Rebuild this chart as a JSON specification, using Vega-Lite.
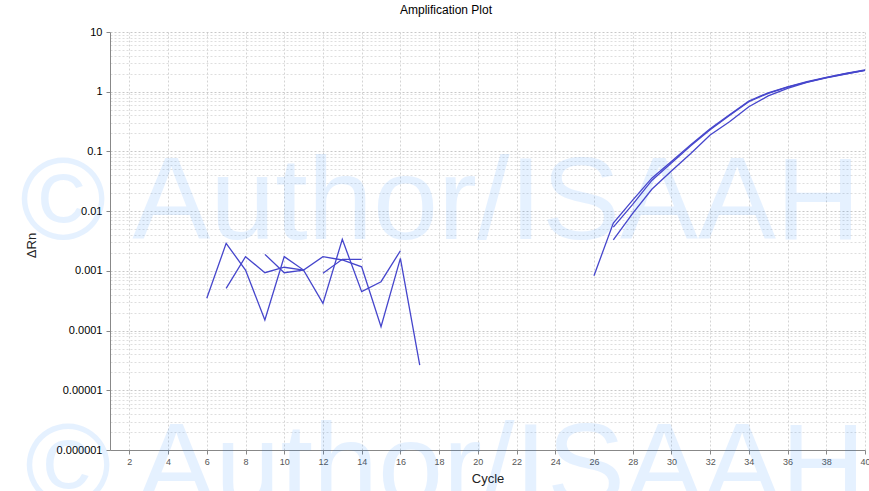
{
  "$schema": "https://vega.github.io/schema/vega-lite/v6.json",
  "width": 755,
  "height": 418,
  "autosize": {"type": "none"},
  "padding": {"left": 110, "top": 32, "right": 4, "bottom": 41},
  "background": "white",
  "title": {"text": "Amplification Plot", "fontSize": 12, "fontWeight": "normal", "font": "Liberation Sans", "color": "black", "anchor": "middle", "frame": "bounds", "offset": 9},
  "config": {
    "view": {"stroke": null},
    "font": "Liberation Sans",
    "axisX": {"labelOverlap": false, "labelFlush": false, "labelBound": false},
    "axisY": {"labelOverlap": false, "labelBound": false}
  },
  "datasets": {
    "curves": [
      {"well": "n1", "cycle": 6, "value": 0.000347},
      {"well": "n1", "cycle": 7, "value": 0.00289},
      {"well": "n1", "cycle": 8, "value": 0.00103},
      {"well": "n1", "cycle": 9, "value": 0.00015},
      {"well": "n1", "cycle": 10, "value": 0.00173},
      {"well": "n1", "cycle": 11, "value": 0.00103},
      {"well": "n1", "cycle": 12, "value": 0.000286},
      {"well": "n1", "cycle": 13, "value": 0.00337},
      {"well": "n1", "cycle": 14, "value": 0.000448},
      {"well": "n1", "cycle": 15, "value": 0.000658},
      {"well": "n1", "cycle": 16, "value": 0.00217},
      {"well": "n2", "cycle": 7, "value": 0.00051},
      {"well": "n2", "cycle": 8, "value": 0.00173},
      {"well": "n2", "cycle": 9, "value": 0.00093},
      {"well": "n2", "cycle": 10, "value": 0.00115},
      {"well": "n2", "cycle": 11, "value": 0.00103},
      {"well": "n2", "cycle": 12, "value": 0.00173},
      {"well": "n2", "cycle": 13, "value": 0.00152},
      {"well": "n2", "cycle": 14, "value": 0.00117},
      {"well": "n2", "cycle": 15, "value": 0.000116},
      {"well": "n2", "cycle": 16, "value": 0.00162},
      {"well": "n2", "cycle": 17, "value": 0.0000265},
      {"well": "n3", "cycle": 9, "value": 0.00189},
      {"well": "n3", "cycle": 10, "value": 0.00093},
      {"well": "n3", "cycle": 11, "value": 0.00103},
      {"well": "n4", "cycle": 12, "value": 0.00091},
      {"well": "n4", "cycle": 13, "value": 0.00156},
      {"well": "n4", "cycle": 14, "value": 0.00156},
      {"well": "a1", "cycle": 26, "value": 0.00083},
      {"well": "a1", "cycle": 27, "value": 0.0063},
      {"well": "a1", "cycle": 28, "value": 0.0153},
      {"well": "a1", "cycle": 29, "value": 0.036},
      {"well": "a1", "cycle": 30, "value": 0.068},
      {"well": "a1", "cycle": 31, "value": 0.13},
      {"well": "a1", "cycle": 32, "value": 0.24},
      {"well": "a1", "cycle": 33, "value": 0.41},
      {"well": "a1", "cycle": 34, "value": 0.70},
      {"well": "a1", "cycle": 35, "value": 0.96},
      {"well": "a1", "cycle": 36, "value": 1.21},
      {"well": "a1", "cycle": 37, "value": 1.47},
      {"well": "a1", "cycle": 38, "value": 1.74},
      {"well": "a1", "cycle": 39, "value": 2.03},
      {"well": "a1", "cycle": 40, "value": 2.31},
      {"well": "a2", "cycle": 27, "value": 0.0054},
      {"well": "a2", "cycle": 28, "value": 0.013},
      {"well": "a2", "cycle": 29, "value": 0.033},
      {"well": "a2", "cycle": 30, "value": 0.064},
      {"well": "a2", "cycle": 31, "value": 0.125},
      {"well": "a2", "cycle": 32, "value": 0.23},
      {"well": "a2", "cycle": 33, "value": 0.40},
      {"well": "a2", "cycle": 34, "value": 0.68},
      {"well": "a2", "cycle": 35, "value": 0.94},
      {"well": "a2", "cycle": 36, "value": 1.19},
      {"well": "a2", "cycle": 37, "value": 1.45},
      {"well": "a2", "cycle": 38, "value": 1.72},
      {"well": "a2", "cycle": 39, "value": 2.0},
      {"well": "a2", "cycle": 40, "value": 2.28},
      {"well": "a3", "cycle": 27, "value": 0.0033},
      {"well": "a3", "cycle": 28, "value": 0.0092},
      {"well": "a3", "cycle": 29, "value": 0.0235},
      {"well": "a3", "cycle": 30, "value": 0.047},
      {"well": "a3", "cycle": 31, "value": 0.092},
      {"well": "a3", "cycle": 32, "value": 0.188},
      {"well": "a3", "cycle": 33, "value": 0.315},
      {"well": "a3", "cycle": 34, "value": 0.56},
      {"well": "a3", "cycle": 35, "value": 0.85},
      {"well": "a3", "cycle": 36, "value": 1.14},
      {"well": "a3", "cycle": 37, "value": 1.43},
      {"well": "a3", "cycle": 38, "value": 1.70},
      {"well": "a3", "cycle": 39, "value": 1.98},
      {"well": "a3", "cycle": 40, "value": 2.27}
    ],
    "mark": [{"label": "© Author/ISAAH"}]
  },
  "layer": [
    {
      "data": {"name": "mark"},
      "mark": {"type": "text", "align": "left", "baseline": "alphabetic", "fontSize": 117, "font": "Liberation Sans", "color": "#0a7cff", "opacity": 0.1},
      "encoding": {
        "text": {"field": "label"},
        "x": {
          "datum": -3.65, "type": "quantitative",
          "scale": {"domain": [1, 40], "nice": false, "zero": false},
          "axis": {
            "title": "Cycle", "titleFont": "Liberation Sans", "titleFontSize": 13, "titleFontWeight": "normal", "titleColor": "#222",
            "titlePadding": 6,
            "values": [2,4,6,8,10,12,14,16,18,20,22,24,26,28,30,32,34,36,38,40],
            "tickCount": 100,
            "format": "d",
            "labelFontSize": 9, "labelColor": "#555", "labelPadding": 3,
            "labelOverlap": false, "labelBound": false, "labelFlush": false,
            "tickSize": 4, "tickColor": "#888", "domainColor": "#888",
            "grid": true, "gridColor": "#d4d4d4", "gridDash": [2, 2]
          }
        },
        "y": {
          "datum": 0.0034, "type": "quantitative",
          "scale": {"type": "log", "domain": [0.000001, 10], "nice": false},
          "axis": {
            "title": "ΔRn", "titleFont": "Liberation Sans", "titleFontSize": 13, "titleFontWeight": "normal", "titleColor": "#222",
            "titleX": -72, "titleY": 213,
            "values": [10,9,8,7,6,5,4,3,2,1,0.9,0.8,0.7,0.6,0.5,0.4,0.3,0.2,0.1,0.09,0.08,0.07,0.06,0.05,0.04,0.03,0.02,0.01,0.009,0.008,0.007,0.006,0.005,0.004,0.003,0.002,0.001,0.0009,0.0008,0.0007,0.0006,0.0005,0.0004,0.0003,0.0002,0.0001,0.00009,0.00008,0.00007,0.00006,0.00005,0.00004,0.00003,0.00002,0.00001,0.000009,0.000008,0.000007,0.000006,0.000005,0.000004,0.000003,0.000002,0.000001],
            "tickCount": 200,
            "labelExpr": "abs(log(datum.value)/LN10 - round(log(datum.value)/LN10)) < 0.001 ? format(datum.value, '~f') : ''",
            "labelFontSize": 11, "labelColor": "black", "labelPadding": 4, "labelOverlap": false, "labelBound": false,
            "tickSize": {"condition": {"test": "abs(log(datum.value)/LN10 - round(log(datum.value)/LN10)) < 0.001", "value": 4}, "value": 0},
            "tickColor": "#888", "domainColor": "#888",
            "grid": true,
            "gridColor": {"condition": {"test": "abs(log(datum.value)/LN10 - round(log(datum.value)/LN10)) < 0.001", "value": "#c8c8c8"}, "value": "#dedede"},
            "gridDash": [2, 2]
          }
        }
      }
    },
    {
      "data": {"name": "mark"},
      "mark": {"type": "text", "align": "left", "baseline": "alphabetic", "fontSize": 117, "font": "Liberation Sans", "color": "#0a7cff", "opacity": 0.1},
      "encoding": {
        "text": {"field": "label"},
        "x": {"datum": -3.39, "type": "quantitative"},
        "y": {"datum": 0.00000012, "type": "quantitative"}
      }
    },
    {
      "data": {"name": "curves"},
      "mark": {"type": "line", "color": "#4646cc", "strokeWidth": 1.3},
      "encoding": {
        "detail": {"field": "well"},
        "x": {"field": "cycle", "type": "quantitative", "title": "Cycle"},
        "y": {"field": "value", "type": "quantitative", "title": "ΔRn"}
      }
    }
  ]
}
